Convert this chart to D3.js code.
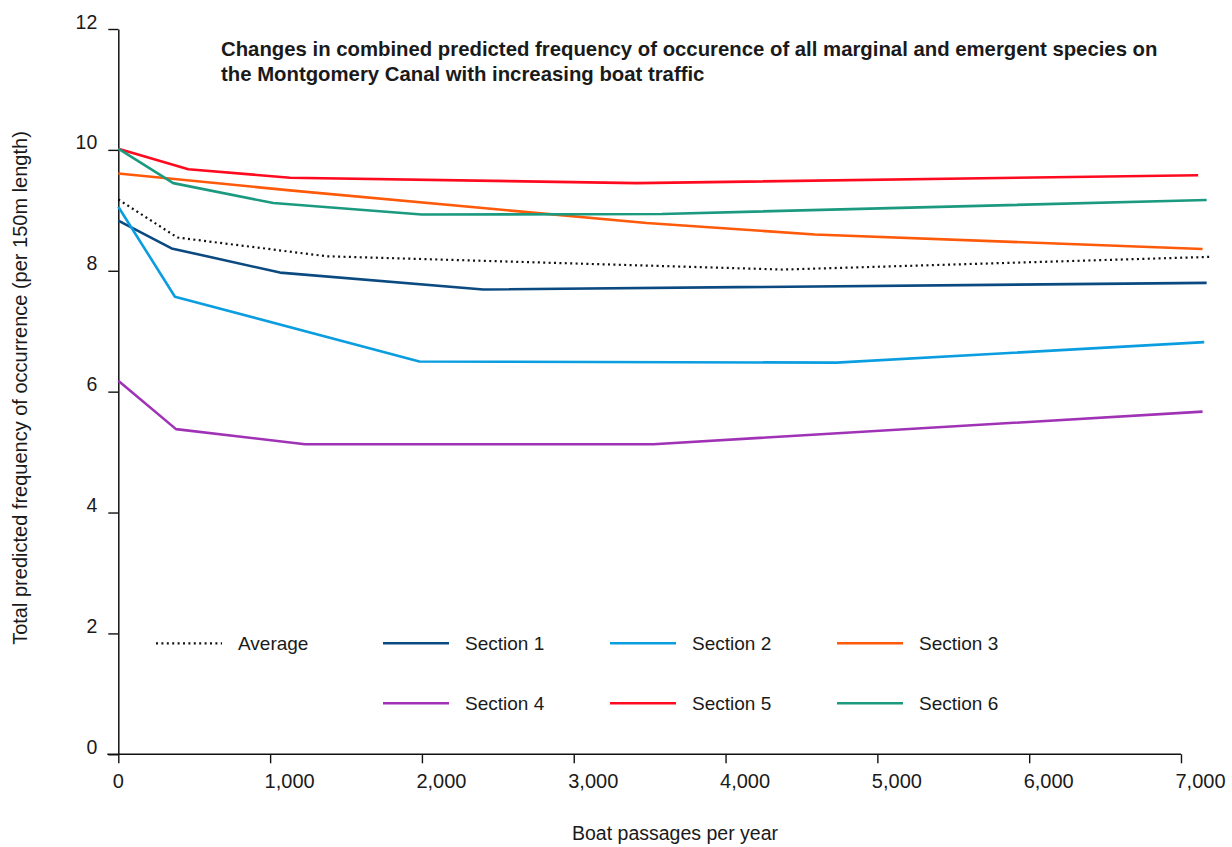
<!DOCTYPE html>
<html>
<head>
<meta charset="utf-8">
<script src="https://cdn.jsdelivr.net/npm/d3@7/dist/d3.min.js"></script>
<style>
  html, body { margin: 0; padding: 0; background: #ffffff; }
  svg { display: block; }
  text { font-family: "Liberation Sans", Arial, Helvetica, sans-serif; fill: #1a1a1a; }
</style>
</head>
<body>
<svg id="chart" width="1232" height="847"></svg>
<script>
// ---------- data ----------
const titleLines = [
  "Changes in combined predicted frequency of occurence of all marginal and emergent species on",
  "the Montgomery Canal with increasing boat traffic"
];
const xAxisTitle = "Boat passages per year";
const yAxisTitle = "Total predicted frequency of occurrence (per 150m length)";
const xTicks = [0, 1000, 2000, 3000, 4000, 5000, 6000, 7000];
const yTicks = [0, 2, 4, 6, 8, 10, 12];

const seriesNames = ["Average", "Section 1", "Section 2", "Section 3", "Section 4", "Section 5", "Section 6"];
const seriesColors = ["#111111", "#0b4a80", "#0a9de0", "#ff5a0a", "#a032b6", "#ff0a1e", "#1b9a80"];

const averageX  = [0, 389, 1372, 4380, 7195];
const averageY  = [9.18, 8.55, 8.24, 8.02, 8.23];
const section1X = [0, 351, 1065, 2404, 7169];
const section1Y = [8.83, 8.37, 7.97, 7.69, 7.80];
const section2X = [0, 373, 1983, 4731, 7153];
const section2Y = [9.06, 7.57, 6.50, 6.48, 6.82];
const section3X = [0, 1131, 3480, 4587, 7142];
const section3Y = [9.61, 9.33, 8.79, 8.60, 8.36];
const section4X = [0, 380, 1230, 3524, 7142];
const section4Y = [6.18, 5.38, 5.13, 5.13, 5.67];
const section5X = [0, 461, 1131, 3414, 7113];
const section5Y = [10.02, 9.68, 9.54, 9.45, 9.58];
const section6X = [0, 362, 1021, 1998, 3580, 7169];
const section6Y = [10.02, 9.45, 9.12, 8.93, 8.94, 9.17];

const seriesX = [averageX, section1X, section2X, section3X, section4X, section5X, section6X];
const seriesY = [averageY, section1Y, section2Y, section3Y, section4Y, section5Y, section6Y];

// legend layout: row, column for each series
const legendRow = [0, 0, 0, 0, 1, 1, 1];
const legendCol = [0, 1, 2, 3, 1, 2, 3];

// ---------- drawing ----------
const svg = d3.select("#chart");
const x = d3.scaleLinear().domain([0, 7000]).range([118.3, 1181]);
const y = d3.scaleLinear().domain([0, 12]).range([754.3, 29]);

// x axis
const gx = svg.append("g").attr("transform", `translate(0,${y(0)})`)
  .call(d3.axisBottom(x).tickValues(xTicks).tickSize(9).tickSizeOuter(0).tickFormat(d3.format(",")));
gx.select(".domain").remove();
gx.selectAll(".tick line").attr("stroke", "#111").attr("stroke-width", 1.4);
gx.selectAll(".tick text")
  .attr("text-anchor", "start").attr("x", -6).attr("y", 33.7).attr("dy", 0)
  .style("font-size", "20px").attr("fill", "#1a1a1a");
svg.append("line")
  .attr("x1", x(0) - 11).attr("x2", x(7000))
  .attr("y1", y(0)).attr("y2", y(0))
  .attr("stroke", "#111").attr("stroke-width", 1.5);

// y axis
const gy = svg.append("g").attr("transform", `translate(${x(0)},0)`)
  .call(d3.axisLeft(y).tickValues(yTicks).tickSize(10).tickSizeOuter(0));
gy.select(".domain").attr("stroke", "#111").attr("stroke-width", 1.5);
gy.selectAll(".tick line").attr("stroke", "#111").attr("stroke-width", 1.4);
gy.selectAll(".tick text")
  .attr("text-anchor", "end").attr("x", -21).attr("y", -1).attr("dy", 0)
  .style("font-size", "19.5px").attr("fill", "#1a1a1a");

// axis titles
svg.append("text")
  .attr("x", 675).attr("y", 840)
  .attr("text-anchor", "middle")
  .style("font-size", "19.5px")
  .text(xAxisTitle);
svg.append("text")
  .attr("transform", "translate(27,388) rotate(-90)")
  .attr("text-anchor", "middle")
  .style("font-size", "20px")
  .text(yAxisTitle);

// title
const titleG = svg.append("g");
const t1 = titleG.append("text").attr("x", 221).attr("y", 56)
  .style("font-size", "18px").style("font-weight", "bold").attr("fill", "#000").text(titleLines[0]);
const w1 = t1.node().getComputedTextLength();
const fs = 18 * 937 / w1;
t1.style("font-size", fs + "px");
titleG.append("text").attr("x", 221).attr("y", 81)
  .style("font-size", fs + "px").style("font-weight", "bold").attr("fill", "#000").text(titleLines[1]);

// lines
const line = d3.line().x(d => x(d[0])).y(d => y(d[1]));
seriesNames.forEach((name, i) => {
  const pts = seriesX[i].map((xv, j) => [xv, seriesY[i][j]]);
  const p = svg.append("path")
    .datum(pts)
    .attr("d", line)
    .attr("fill", "none")
    .attr("stroke", seriesColors[i])
    .attr("stroke-linejoin", "round");
  if (i === 0) {
    p.attr("stroke-width", 2.2).attr("stroke-dasharray", "2,3.4");
  } else {
    p.attr("stroke-width", 2.6);
  }
});

// legend
const legendX0 = 156, legendDX = 227, legendY0 = 643.3, legendDY = 60;
seriesNames.forEach((name, i) => {
  const lx = legendX0 + legendCol[i] * legendDX;
  const ly = legendY0 + legendRow[i] * legendDY;
  const l = svg.append("line")
    .attr("x1", lx).attr("x2", lx + 66)
    .attr("y1", ly).attr("y2", ly)
    .attr("stroke", seriesColors[i]);
  if (i === 0) l.attr("stroke-width", 2.2).attr("stroke-dasharray", "2,3.4");
  else l.attr("stroke-width", 2.6);
  svg.append("text")
    .attr("x", lx + 82).attr("y", ly).attr("dy", "0.35em")
    .style("font-size", "19px")
    .text(name);
});
</script>
</body>
</html>
